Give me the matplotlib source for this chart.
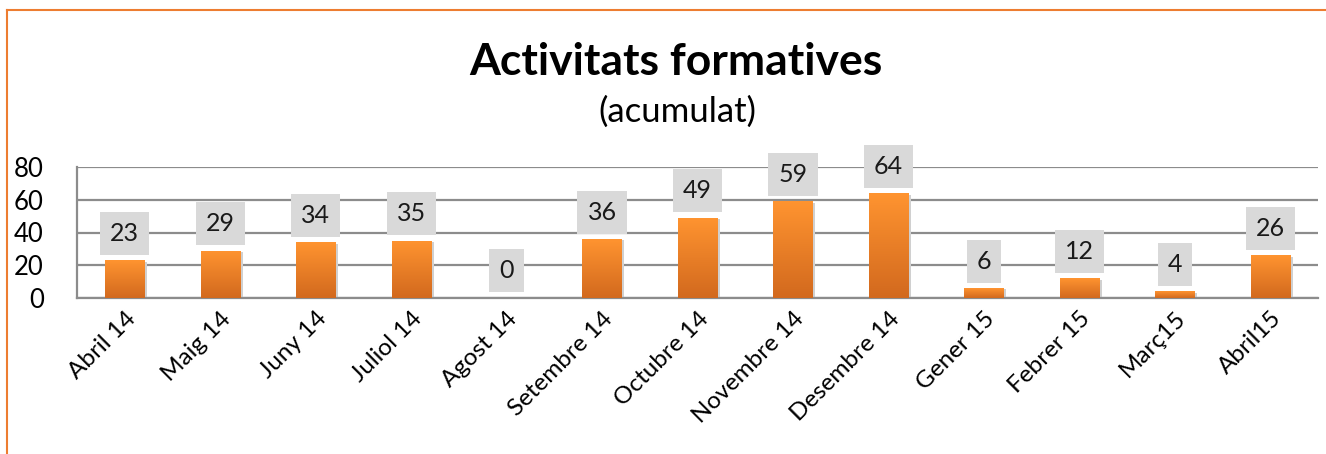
import numpy as np
import matplotlib.pyplot as plt
from matplotlib.lines import Line2D
from matplotlib.colors import LinearSegmentedColormap

months = ['Abril 14', 'Maig 14', 'Juny 14', 'Juliol 14', 'Agost 14', 'Setembre 14',
          'Octubre 14', 'Novembre 14', 'Desembre 14', 'Gener 15', 'Febrer 15',
          'Març15', 'Abril15']
activitats = [23, 29, 34, 35, 0, 36, 49, 59, 64, 6, 12, 4, 26]
yticks = [0, 20, 40, 60, 80]

plt.rcParams['font.family'] = ['Lato', 'DejaVu Sans']

fig = plt.figure(figsize=(13.26, 4.54), dpi=100)
ax = fig.add_axes([77 / 1326, 1 - 298 / 454, (1318 - 77) / 1326, 131 / 454])

x = np.arange(len(months))
bars = ax.bar(x, activitats, width=0.41, color='none', zorder=3)

# vertical gradient for each bar
grad = np.linspace(0, 1, 256).reshape(-1, 1)
cmap = LinearSegmentedColormap.from_list('og', ['#D2691E', '#FF9430'])
for b in bars:
    h = b.get_height()
    if h <= 0:
        continue
    x0 = b.get_x()
    w = b.get_width()
    # soft shadow
    ax.bar(x0 + w / 2 + 0.02, h, width=w + 0.02, bottom=-0.8, color='#d0d0d0', zorder=2)
    im = ax.imshow(grad, extent=[x0, x0 + w, 0, h], origin='lower', cmap=cmap,
                   aspect='auto', zorder=3)
    im.set_clip_path(b)

for xi, v in zip(x, activitats):
    ax.text(xi, v + 16.5, str(v), ha='center', va='center', fontsize=18, color='#1a1a1a',
            zorder=5, bbox=dict(boxstyle='square,pad=0.4', fc='#d9d9d9', ec='none'))

ax.set_xlim(-0.5, len(months) - 0.5)
ax.set_ylim(0, 80)
ax.set_yticks(yticks)
ax.yaxis.grid(True, color='#8c8c8c', linewidth=1.6, zorder=0)
ax.set_axisbelow(True)
for s in ['top', 'right']:
    ax.spines[s].set_visible(False)
for s in ['left', 'bottom']:
    ax.spines[s].set_color('#8c8c8c')
    ax.spines[s].set_linewidth(1.6)
ax.tick_params(axis='y', length=0, labelsize=18.5, pad=24)
ax.tick_params(axis='x', length=0, labelsize=17.5, pad=7)
ax.set_xticks(x)
ax.set_xticklabels(months, rotation=45, ha='right', rotation_mode='anchor')

fig.text(676 / 1326, 1 - 62 / 454, 'Activitats formatives', ha='center', va='center',
         fontsize=32, fontweight='bold')
fig.text(677 / 1326, 1 - 112 / 454, '(acumulat)', ha='center', va='center', fontsize=25)

# orange chart frame
fig.add_artist(Line2D([7 / 1326, 1], [1 - 10 / 454, 1 - 10 / 454], color='#ED7D31', lw=1.5))
fig.add_artist(Line2D([7 / 1326, 7 / 1326], [0, 1 - 10 / 454], color='#ED7D31', lw=1.5))

fig.savefig('out.png', dpi=100)
